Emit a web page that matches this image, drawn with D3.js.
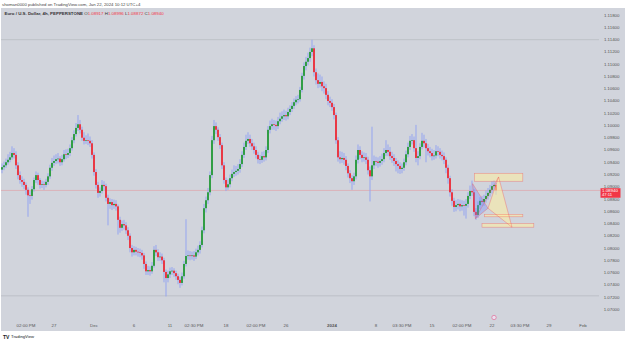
<!DOCTYPE html>
<html>
<head>
<meta charset="utf-8">
<script src="https://cdn.jsdelivr.net/npm/d3@7"></script>
<style>
  body { margin: 0; background: #fff; }
  svg { display: block; font-family: "Liberation Sans", Arial, sans-serif; }
</style>
</head>
<body>
<div id="chart"></div>
<script>
// EURUSD 4h candles (open = previous close)
var firstOpen = 1.0928;
var closes = [1.0932,1.0935,1.0940,1.0944,1.0948,1.0955,1.0952,1.0935,1.0919,1.0911,
  1.0908,1.0903,1.0895,1.0886,1.0885,1.0896,1.0911,1.0919,1.0911,1.0903,
  1.0904,1.0903,1.0908,1.0917,1.0931,1.0939,1.0942,1.0945,1.0946,1.0940,
  1.0945,1.0953,1.0952,1.0955,1.0963,1.0976,1.0986,1.0996,1.1002,1.0993,
  1.0980,1.0975,1.0976,1.0975,1.0971,1.0952,1.0924,1.0903,1.0890,1.0893,
  1.0903,1.0901,1.0882,1.0872,1.0875,1.0870,1.0872,1.0868,1.0846,1.0833,
  1.0839,1.0837,1.0829,1.0820,1.0800,1.0793,1.0797,1.0794,1.0793,1.0792,
  1.0788,1.0774,1.0762,1.0764,1.0762,1.0771,1.0797,1.0793,1.0785,1.0786,
  1.0780,1.0761,1.0751,1.0757,1.0762,1.0763,1.0759,1.0754,1.0748,1.0743,
  1.0754,1.0774,1.0787,1.0788,1.0787,1.0788,1.0786,1.0793,1.0797,1.0805,
  1.0829,1.0865,1.0878,1.0891,1.0919,1.0976,1.0999,1.0993,1.0981,1.0968,
  1.0935,1.0911,1.0899,1.0904,1.0914,1.0921,1.0924,1.0926,1.0929,1.0937,
  1.0952,1.0965,1.0975,1.0978,1.0971,1.0966,1.0960,1.0952,1.0945,1.0944,
  1.0950,1.0948,1.0960,1.0993,1.0999,1.1002,1.1001,1.0999,1.1007,1.1011,
  1.1015,1.1017,1.1015,1.1022,1.1027,1.1032,1.1038,1.1042,1.1043,1.1058,
  1.1081,1.1097,1.1104,1.1110,1.1120,1.1126,1.1087,1.1074,1.1068,1.1071,
  1.1064,1.1061,1.1050,1.1040,1.1037,1.1030,1.1017,1.0976,1.0948,1.0945,
  1.0947,1.0944,1.0934,1.0922,1.0914,1.0909,1.0917,1.0944,1.0960,1.0952,
  1.0947,1.0948,1.0944,1.0927,1.0917,1.0935,1.0942,1.0941,1.0939,1.0942,
  1.0945,1.0955,1.0960,1.0957,1.0950,1.0947,1.0942,1.0937,1.0934,1.0929,
  1.0931,1.0940,1.0953,1.0965,1.0975,1.0976,1.0963,1.0947,1.0950,1.0965,
  1.0975,1.0971,1.0963,1.0958,1.0955,1.0950,1.0951,1.0958,1.0957,1.0952,
  1.0950,1.0944,1.0931,1.0914,1.0891,1.0877,1.0867,1.0870,1.0872,1.0868,
  1.0870,1.0869,1.0872,1.0885,1.0893,1.0891,1.0859,1.0854,1.0870,1.0877,
  1.0875,1.0880,1.0885,1.0890,1.0895,1.0901,1.0903,1.0894];
var highs = [1.0938,1.0941,1.0946,1.0953,1.0957,1.0966,1.0963,1.0958,1.0940,1.0925,
  1.0917,1.0913,1.0907,1.0899,1.0893,1.0901,1.0915,1.0925,1.0923,1.0914,
  1.0910,1.0909,1.0913,1.0922,1.0936,1.0947,1.0951,1.0953,1.0955,1.0950,
  1.0952,1.0960,1.0961,1.0962,1.0969,1.0981,1.0992,1.1004,1.1017,1.1009,
  1.0998,1.0989,1.0984,1.0987,1.0982,1.0976,1.0956,1.0929,1.0908,1.0899,
  1.0911,1.0909,1.0905,1.0887,1.0881,1.0880,1.0879,1.0878,1.0871,1.0851,
  1.0845,1.0846,1.0842,1.0834,1.0824,1.0805,1.0803,1.0802,1.0800,1.0799,
  1.0797,1.0792,1.0778,1.0771,1.0770,1.0777,1.0803,1.0805,1.0798,1.0793,
  1.0791,1.0784,1.0765,1.0763,1.0768,1.0769,1.0767,1.0763,1.0758,1.0753,
  1.0760,1.0779,1.0847,1.0796,1.0795,1.0794,1.0795,1.0799,1.0804,1.0811,
  1.0835,1.0872,1.0884,1.0898,1.0925,1.0983,1.1009,1.1005,1.0997,1.0986,
  1.0972,1.0940,1.0915,1.0912,1.0920,1.0928,1.0935,1.0934,1.0937,1.0945,
  1.0958,1.0972,1.0985,1.0989,1.0985,1.0978,1.0972,1.0966,1.0957,1.0952,
  1.0957,1.0958,1.0966,1.0999,1.1008,1.1011,1.1009,1.1008,1.1014,1.1021,
  1.1023,1.1026,1.1024,1.1029,1.1033,1.1038,1.1044,1.1048,1.1050,1.1063,
  1.1086,1.1103,1.1112,1.1119,1.1127,1.1140,1.1131,1.1093,1.1085,1.1083,
  1.1080,1.1072,1.1068,1.1056,1.1047,1.1043,1.1035,1.1021,1.0981,1.0958,
  1.0957,1.0955,1.0950,1.0938,1.0927,1.0919,1.0923,1.0951,1.0969,1.0966,
  1.0958,1.0956,1.0955,1.0949,1.0933,1.0998,1.0951,1.0949,1.0948,1.0950,
  1.0954,1.0963,1.0976,1.0969,1.0965,1.0957,1.0953,1.0947,1.0943,1.0940,
  1.0938,1.0946,1.0959,1.0972,1.0983,1.0986,1.0982,1.1001,1.0958,1.0971,
  1.0988,1.0985,1.0978,1.0970,1.0965,1.0962,1.0960,1.0968,1.0966,1.0963,
  1.0959,1.0956,1.0948,1.0936,1.0918,1.0896,1.0882,1.0878,1.0880,1.0879,
  1.0878,1.0877,1.0880,1.0891,1.0902,1.0910,1.0896,1.0865,1.0876,1.0883,
  1.0885,1.0887,1.0894,1.0898,1.0903,1.0909,1.0911,1.0906];
var lows = [1.0922,1.0927,1.0931,1.0936,1.0940,1.0944,1.0946,1.0929,1.0912,1.0905,
  1.0900,1.0896,1.0887,1.0851,1.0872,1.0879,1.0892,1.0906,1.0903,1.0897,
  1.0898,1.0895,1.0899,1.0903,1.0913,1.0926,1.0934,1.0937,1.0938,1.0934,
  1.0935,1.0941,1.0945,1.0947,1.0950,1.0959,1.0971,1.0982,1.0991,1.0987,
  1.0975,1.0969,1.0970,1.0968,1.0965,1.0946,1.0918,1.0897,1.0882,1.0884,
  1.0889,1.0894,1.0876,1.0837,1.0864,1.0862,1.0864,1.0861,1.0822,1.0825,
  1.0828,1.0830,1.0823,1.0813,1.0793,1.0786,1.0788,1.0788,1.0786,1.0785,
  1.0781,1.0766,1.0756,1.0756,1.0755,1.0758,1.0768,1.0787,1.0779,1.0779,
  1.0774,1.0744,1.0721,1.0744,1.0751,1.0756,1.0753,1.0748,1.0741,1.0735,
  1.0739,1.0750,1.0770,1.0781,1.0780,1.0781,1.0779,1.0782,1.0788,1.0791,
  1.0801,1.0824,1.0858,1.0872,1.0886,1.0914,1.0970,1.0986,1.0975,1.0962,
  1.0929,1.0905,1.0893,1.0895,1.0899,1.0909,1.0916,1.0918,1.0920,1.0923,
  1.0932,1.0947,1.0960,1.0970,1.0965,1.0960,1.0954,1.0946,1.0938,1.0937,
  1.0939,1.0941,1.0943,1.0955,1.0987,1.0993,1.0993,1.0991,1.0994,1.1002,
  1.1006,1.1009,1.1008,1.1010,1.1017,1.1022,1.1027,1.1033,1.1036,1.1039,
  1.1054,1.1075,1.1090,1.1098,1.1104,1.1113,1.1080,1.1067,1.1061,1.1062,
  1.1056,1.1052,1.1043,1.1033,1.1030,1.1024,1.1010,1.0970,1.0941,1.0938,
  1.0939,1.0936,1.0927,1.0915,1.0906,1.0895,1.0903,1.0912,1.0938,1.0945,
  1.0940,1.0941,1.0937,1.0920,1.0876,1.0911,1.0929,1.0934,1.0931,1.0933,
  1.0936,1.0940,1.0950,1.0950,1.0944,1.0939,1.0934,1.0925,1.0922,1.0921,
  1.0922,1.0926,1.0935,1.0948,1.0960,1.0969,1.0957,1.0940,1.0935,1.0945,
  1.0961,1.0964,1.0940,1.0951,1.0948,1.0943,1.0944,1.0946,1.0950,1.0946,
  1.0943,1.0937,1.0922,1.0905,1.0884,1.0869,1.0859,1.0860,1.0863,1.0860,
  1.0861,1.0853,1.0848,1.0866,1.0880,1.0885,1.0852,1.0846,1.0849,1.0864,
  1.0868,1.0869,1.0874,1.0879,1.0884,1.0889,1.0894,1.0887];

var priceTicks = [1.118,1.116,1.114,1.112,1.110,1.108,1.106,1.104,1.102,1.100,
  1.098,1.096,1.094,1.092,1.090,1.088,1.086,1.084,1.082,1.080,
  1.078,1.076,1.074,1.072,1.070];
var timeTickBars = [12,26,46,66,84,96,112,127,142,165,187,200,215,230,245,259,273.5,290.5];
var timeTickLabels = ["02:00 PM","27","Dec","6","11","02:30 PM","18","02:00 PM","26",
  "2024","8","03:30 PM","15","02:00 PM","22","03:30 PM","29","Feb"];
var levelLines = [1.1140, 1.0722];
var lastPrice = 1.0894;
var countdown = "47:11";

// XABCD drawing (bar index, price)
var patX = [235.3, 236.7, 243, 248.3, 255];
var patP = [1.0905, 1.0848, 1.0865, 1.0916, 1.0834];
// target boxes [bar0, bar1, priceTop, priceBottom]
var boxes = [[236.2,260.4,1.0922,1.0909],[241.2,260.4,1.0855,1.0851],[240,265.9,1.0840,1.0834]];

var W = 625, H = 342;
var svg = d3.select('#chart').append('svg').attr('width', W).attr('height', H);

var x = d3.scaleLinear().domain([0, 247]).range([2, 496]);
var y = d3.scaleLinear().domain([1.070, 1.118]).range([309.3, 15.2]);

// background
svg.append('rect').attr('x', 1).attr('y', 8).attr('width', W - 1).attr('height', 323).attr('fill', '#d1d4dc');

// header
svg.append('text').attr('x', 2).attr('y', 5.6).attr('font-size', 4.3).attr('fill', '#444')
  .text('shoman0000 published on TradingView.com, Jan 22, 2024 10:12 UTC+4');
var hdr = svg.append('text').attr('x', 4.5).attr('y', 14.9).attr('font-size', 4.4).attr('fill', '#333');
hdr.append('tspan').attr('font-weight', 'bold').text('Euro / U.S. Dollar, 4h, PEPPERSTONE ');
[['O', '1.08917'], ['H', '1.08996'], ['L', '1.08872'], ['C', '1.08940']].forEach(function (d) {
  hdr.append('tspan').attr('fill', '#333').text(' ' + d[0]);
  hdr.append('tspan').attr('fill', '#f23645').text(d[1]);
});

// level lines
svg.selectAll('.lvl').data(levelLines).enter().append('line')
  .attr('x1', 1).attr('x2', 599)
  .attr('y1', function (d) { return y(d); }).attr('y2', function (d) { return y(d); })
  .attr('stroke', '#b4b7bf').attr('stroke-width', 0.7);

// last price line
svg.append('line').attr('x1', 1).attr('x2', 600)
  .attr('y1', y(lastPrice)).attr('y2', y(lastPrice))
  .attr('stroke', '#e39aa3').attr('stroke-width', 0.6);

// candles
var bars = closes.map(function (c, i) {
  return { i: i, o: i ? closes[i - 1] : firstOpen, c: c, h: highs[i], l: lows[i] };
});

svg.append('g').selectAll('line').data(bars).enter().append('line')
  .attr('x1', function (d) { return x(d.i); }).attr('x2', function (d) { return x(d.i); })
  .attr('y1', function (d) { return y(d.h); }).attr('y2', function (d) { return y(d.l); })
  .attr('stroke', '#95a5f0').attr('stroke-width', 1);

svg.append('g').selectAll('rect').data(bars).enter().append('rect')
  .attr('x', function (d) { return x(d.i) - 0.85; })
  .attr('width', 1.7)
  .attr('y', function (d) { return y(Math.max(d.o, d.c)); })
  .attr('height', function (d) { return Math.max(0.7, Math.abs(y(d.o) - y(d.c))); })
  .attr('fill', function (d) { return d.c >= d.o ? '#1b982a' : '#f2222a'; });

// pattern drawing
var pts = patX.map(function (b, k) { return [x(b), y(patP[k])]; });
var line = d3.line();
svg.append('path').attr('d', line([pts[0], pts[1], pts[2]]) + 'Z')
  .attr('fill', 'rgba(110,135,255,0.35)').attr('stroke', 'none');
svg.append('path').attr('d', line([pts[2], pts[3], pts[4]]) + 'Z')
  .attr('fill', 'rgba(255,238,160,0.55)').attr('stroke', 'none');

svg.selectAll('.box').data(boxes).enter().append('rect')
  .attr('x', function (d) { return x(d[0]); })
  .attr('width', function (d) { return x(d[1]) - x(d[0]); })
  .attr('y', function (d) { return y(d[2]); })
  .attr('height', function (d) { return y(d[3]) - y(d[2]); })
  .attr('fill', 'rgba(255,238,160,0.55)').attr('stroke', 'rgba(242,70,80,0.5)').attr('stroke-width', 0.6);

var edges = [[0, 1], [1, 2], [2, 3], [3, 4], [0, 2], [2, 4], [1, 3]];
svg.selectAll('.edge').data(edges).enter().append('line')
  .attr('x1', function (d) { return pts[d[0]][0]; }).attr('y1', function (d) { return pts[d[0]][1]; })
  .attr('x2', function (d) { return pts[d[1]][0]; }).attr('y2', function (d) { return pts[d[1]][1]; })
  .attr('stroke', 'rgba(242,70,80,0.55)').attr('stroke-width', 0.6);

// price axis labels
svg.append('g').selectAll('text').data(priceTicks).enter().append('text')
  .attr('x', 619.5).attr('y', function (d) { return y(d) + 1.5; })
  .attr('text-anchor', 'end').attr('font-size', 4.4).attr('fill', '#555')
  .text(function (d) { return d3.format('.5f')(d); });

// last price tag
svg.append('rect').attr('x', 600.5).attr('y', y(lastPrice) - 2.2).attr('width', 20).attr('height', 9.5)
  .attr('fill', '#f23645');
svg.append('text').attr('x', 602).attr('y', y(lastPrice) + 1.7).attr('font-size', 4.4).attr('fill', '#fff')
  .text(d3.format('.5f')(lastPrice));
svg.append('text').attr('x', 602).attr('y', y(lastPrice) + 6).attr('font-size', 4.2).attr('fill', '#fff')
  .text(countdown);

// time axis labels
svg.append('g').selectAll('text').data(timeTickBars).enter().append('text')
  .attr('x', function (d) { return x(d); }).attr('y', 327.3)
  .attr('text-anchor', 'middle').attr('font-size', 4.4).attr('fill', '#555')
  .attr('font-weight', function (d, k) { return timeTickLabels[k] === '2024' ? 'bold' : null; })
  .text(function (d, k) { return timeTickLabels[k]; });

// small event marker on the time axis
svg.append('circle').attr('cx', x(246)).attr('cy', 317.5).attr('r', 2.2)
  .attr('fill', '#e9e0f0').attr('stroke', '#e05a8a').attr('stroke-width', 0.6);

// footer logo
svg.append('text').attr('x', 3).attr('y', 338.5).attr('font-size', 5).attr('font-weight', 'bold')
  .attr('fill', '#131722').text('TV');
svg.append('text').attr('x', 11).attr('y', 338.3).attr('font-size', 4.2).attr('fill', '#131722')
  .text('TradingView');
</script>
</body>
</html>
